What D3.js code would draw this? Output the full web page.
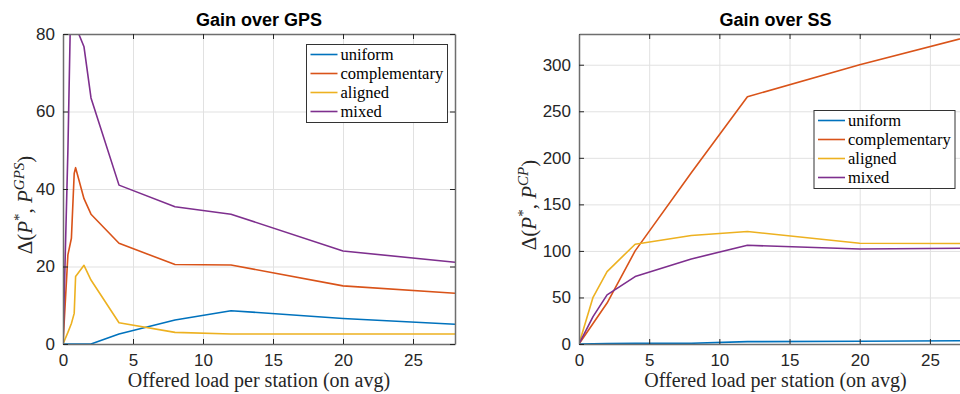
<!DOCTYPE html>
<html>
<head>
<meta charset="utf-8">
<script src="https://cdn.jsdelivr.net/npm/d3@7"></script>
<style>
  body { margin: 0; background: #fff; }
  svg { display: block; }
</style>
</head>
<body>
<svg id="chart" width="960" height="394"></svg>
<script>
// series names + matlab default colours
const seriesNames = ["uniform", "complementary", "aligned", "mixed"];
const seriesColors = ["#0072BD", "#D95319", "#EDB120", "#7E2F8E"];

// left panel: gain over GPS
const gpsLoad = [0, 0.35, 0.6, 0.8, 0.9, 1.5, 2, 4, 8, 12, 20, 28];
const gpsUniform = [0, 0, 0, 0, 0, 0, 0, 2.6, 6.2, 8.6, 6.6, 5.1];
const gpsComplementary = [0, 23, 27.3, 44, 45.5, 37.5, 33.5, 26, 20.5, 20.4, 15, 13.1];
const gpsAligned = [0, 3, 5.3, 7.9, 17.4, 20.3, 16.5, 5.5, 3.0, 2.6, 2.6, 2.6];
const gpsMixed = [0, 50, 97, 87, 82, 76.7, 63.5, 41, 35.4, 33.5, 24, 21.1];
const gpsYTicks = [0, 20, 40, 60, 80];

// right panel: gain over SS
const ssLoad = [0, 1, 2, 4, 8, 12, 20, 28];
const ssUniform = [0, 0.3, 0.5, 0.7, 0.8, 2.5, 3, 3.5];
const ssComplementary = [0, 22, 44, 100, 184, 265.6, 300, 331];
const ssAligned = [0, 50.2, 77.8, 107.2, 116.5, 120.8, 108.2, 108];
const ssMixed = [0, 29.4, 52.7, 72.4, 91.4, 106, 102, 103];
const ssYTicks = [0, 50, 100, 150, 200, 250, 300];

const xTicks = [0, 5, 10, 15, 20, 25];
const xLabel = "Offered load per station (on avg)";

const svg = d3.select("#chart");

const drawPanel = (p) => {
  const x = d3.scaleLinear().domain([0, 28]).range([p.left, p.right]);
  const y = d3.scaleLinear().domain([0, p.ymax]).range([p.bottom, p.top]);
  const w = p.right - p.left;
  const h = p.bottom - p.top;

  const g = svg.append("g");

  // grid
  g.append("g")
    .attr("transform", `translate(0,${p.bottom})`)
    .call(d3.axisBottom(x).tickValues(xTicks).tickSize(-h).tickFormat(""))
    .call((s) => s.select(".domain").remove())
    .selectAll("line").attr("stroke", "#e1e1e1");
  g.append("g")
    .attr("transform", `translate(${p.left},0)`)
    .call(d3.axisLeft(y).tickValues(p.yTicks).tickSize(-w).tickFormat(""))
    .call((s) => s.select(".domain").remove())
    .selectAll("line").attr("stroke", "#e1e1e1");

  // data lines, clipped to the axes box
  const clipId = "clip-" + p.id;
  svg.append("clipPath").attr("id", clipId)
    .append("rect")
    .attr("x", p.left).attr("y", p.top)
    .attr("width", w).attr("height", h);

  const line = d3.line()
    .x((d) => x(d[0]))
    .y((d) => y(d[1]));

  g.append("g")
    .attr("clip-path", `url(#${clipId})`)
    .selectAll("path")
    .data(p.series)
    .enter()
    .append("path")
    .attr("d", (s) => line(p.load.map((v, i) => [v, s[i]])))
    .attr("fill", "none")
    .attr("stroke", (s, i) => seriesColors[i])
    .attr("stroke-width", 1.6)
    .attr("stroke-linejoin", "round");

  // axes, ticks inward on all four sides
  const axisStyle = (s) => {
    s.select(".domain").attr("stroke", "#6e6e6e").attr("stroke-width", 1.5);
    s.selectAll(".tick line").attr("stroke", "#262626");
    s.selectAll(".tick text")
      .attr("fill", "#262626")
      .attr("font-family", "'Liberation Sans', Arial, sans-serif")
      .attr("font-size", "17px");
  };

  g.append("g")
    .attr("transform", `translate(0,${p.bottom})`)
    .call(d3.axisBottom(x).tickValues(xTicks).tickSize(-5).tickSizeOuter(0).tickPadding(10))
    .call(axisStyle);
  g.append("g")
    .attr("transform", `translate(0,${p.top})`)
    .call(d3.axisTop(x).tickValues(xTicks).tickSize(-5).tickSizeOuter(0).tickFormat(""))
    .call(axisStyle);
  g.append("g")
    .attr("transform", `translate(${p.left},0)`)
    .call(d3.axisLeft(y).tickValues(p.yTicks).tickSize(-5).tickSizeOuter(0).tickPadding(8))
    .call(axisStyle);
  g.append("g")
    .attr("transform", `translate(${p.right},0)`)
    .call(d3.axisRight(y).tickValues(p.yTicks).tickSize(-5).tickSizeOuter(0).tickFormat(""))
    .call(axisStyle);

  // title
  g.append("text")
    .attr("x", (p.left + p.right) / 2)
    .attr("y", 26)
    .attr("text-anchor", "middle")
    .attr("font-family", "'Liberation Sans', Arial, sans-serif")
    .attr("font-weight", "bold")
    .attr("font-size", "18px")
    .attr("fill", "#000")
    .text(p.title);

  // x label
  g.append("text")
    .attr("x", (p.left + p.right) / 2)
    .attr("y", 387)
    .attr("text-anchor", "middle")
    .attr("font-family", "'Liberation Serif', 'Times New Roman', serif")
    .attr("font-size", "20px")
    .attr("fill", "#262626")
    .text(xLabel);

  // y label  Δ(P*, P^sup)
  const yl = g.append("text")
    .attr("transform", `translate(${p.ylabelX},205) rotate(-90)`)
    .attr("text-anchor", "middle")
    .attr("font-family", "'Liberation Serif', 'Times New Roman', serif")
    .attr("font-size", "21px")
    .attr("fill", "#262626");
  yl.append("tspan").text("Δ(");
  yl.append("tspan").attr("font-style", "italic").text("P");
  yl.append("tspan").attr("dy", -8).attr("font-size", "15px").text("*");
  yl.append("tspan").attr("dy", 8).text(",  ");
  yl.append("tspan").attr("font-style", "italic").text("P");
  yl.append("tspan").attr("dy", -8).attr("font-size", "15px")
    .attr("font-style", "italic").text(p.ylabelSup);
  yl.append("tspan").attr("dy", 8).text(")");

  // legend
  const lg = g.append("g").attr("transform", `translate(${p.legendX},${p.legendY})`);
  lg.append("rect")
    .attr("width", 141)
    .attr("height", 78)
    .attr("fill", "#fff")
    .attr("stroke", "#333")
    .attr("stroke-width", 1);
  const item = lg.selectAll(".legend")
    .data(seriesNames)
    .enter()
    .append("g")
    .attr("class", "legend")
    .attr("transform", (d, i) => `translate(0, ${10 + i * 19})`);
  item.append("line")
    .attr("x1", 4).attr("x2", 31)
    .attr("stroke", (d, i) => seriesColors[i])
    .attr("stroke-width", 1.6);
  item.append("text")
    .attr("x", 34)
    .attr("y", 5)
    .attr("font-family", "'Liberation Serif', 'Times New Roman', serif")
    .attr("font-size", "16.5px")
    .attr("fill", "#000")
    .text((d) => d);
};

drawPanel({
  id: "gps",
  left: 63, right: 455, top: 34, bottom: 344,
  ymax: 80, yTicks: gpsYTicks,
  load: gpsLoad,
  series: [gpsUniform, gpsComplementary, gpsAligned, gpsMixed],
  title: "Gain over GPS",
  ylabelX: 32, ylabelSup: "GPS",
  legendX: 306.5, legendY: 44.5,
});

drawPanel({
  id: "ss",
  left: 579, right: 972, top: 34, bottom: 344,
  ymax: 333, yTicks: ssYTicks,
  load: ssLoad,
  series: [ssUniform, ssComplementary, ssAligned, ssMixed],
  title: "Gain over SS",
  ylabelX: 536, ylabelSup: "CP",
  legendX: 814, legendY: 110.5,
});
</script>
</body>
</html>
